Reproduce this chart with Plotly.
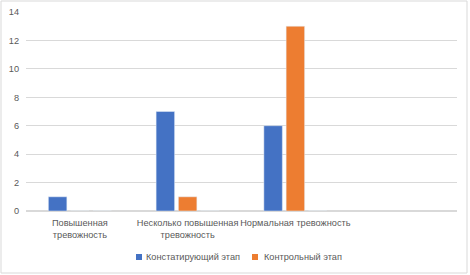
import plotly.graph_objects as go

categories = ["Повышенная<br>тревожность", "Несколько повышенная<br>тревожность", "Нормальная тревожность"]
series_names = ["Констатирующий этап", "Контрольный этап"]
stage1 = [1, 7, 6]
stage2 = [0, 1, 13]
colors = ["#4472C4", "#ED7D31"]
y_ticks = [0, 2, 4, 6, 8, 10, 12, 14]

xpos = list(range(len(categories)))
font = dict(family="Liberation Sans, Arial, sans-serif", size=9.2, color="#595959")

L, R, T, B = 26, 13, 12, 64
W, H = 470, 275
pw, ph = W - L - R, H - T - B

def px(x):
    return (x - L) / pw

def py(y):
    return (H - B - y) / ph

fig = go.Figure()
for name, vals, c in zip(series_names, [stage1, stage2], colors):
    fig.add_trace(go.Bar(x=xpos, y=vals, name=name, marker_color=c, showlegend=False))
# empty third slot (Excel placeholder series)
fig.add_trace(go.Bar(x=xpos, y=[0, 0, 0], showlegend=False, marker_color="rgba(0,0,0,0)", hoverinfo="skip"))

shapes = [dict(type="rect", xref="paper", yref="paper",
               x0=px(1), x1=px(467), y0=py(273), y1=py(1),
               line=dict(color="#D9D9D9", width=1))]
annotations = []
legend_pos = [(136, 144), (252, 262)]
for (sx, tx), name, c in zip(legend_pos, series_names, colors):
    shapes.append(dict(type="rect", xref="paper", yref="paper",
                       x0=px(sx), x1=px(sx + 6), y0=py(260), y1=py(254),
                       fillcolor=c, line=dict(width=0)))
    annotations.append(dict(text=name, xref="paper", yref="paper", x=px(tx), y=py(257),
                            xanchor="left", yanchor="middle", showarrow=False, font=font))

fig.update_layout(
    width=W, height=H,
    margin=dict(l=L, r=R, t=T, b=B, autoexpand=False),
    paper_bgcolor="white", plot_bgcolor="white",
    barmode="group", bargap=0.38, bargroupgap=0.17,
    font=font, showlegend=False,
    xaxis=dict(tickmode="array", tickvals=xpos, ticktext=categories, range=[-0.5, 3.5],
               showgrid=False, zeroline=False, showline=False, ticks="", tickangle=0,
               tickfont=font, automargin=False, ticklabelstandoff=5),
    yaxis=dict(range=[0, 14], tickvals=y_ticks, showgrid=True, gridcolor="#D9D9D9",
               gridwidth=1, zeroline=True, zerolinecolor="#D9D9D9", showline=False,
               ticks="", tickfont=font, ticklabelstandoff=6, automargin=False),
    shapes=shapes, annotations=annotations,
)
fig.write_html("out.html", config={"displayModeBar": False},
               post_script="document.body.style.margin='0';document.body.style.overflow='hidden';")
